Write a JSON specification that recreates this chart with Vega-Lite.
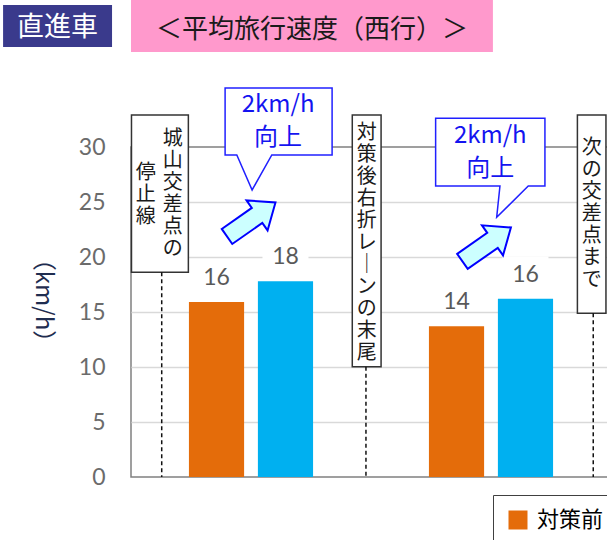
{
  "$schema": "https://vega.github.io/schema/vega-lite/v6.json",
  "width": 480,
  "height": 330,
  "autosize": {"type": "none"},
  "padding": {"left": 131, "top": 147, "right": 0, "bottom": 63},
  "background": "white",
  "config": {
    "view": {"stroke": "#808080", "strokeWidth": 1.5},
    "text": {"font": "Noto Sans CJK JP"}
  },
  "resolve": {"scale": {"x": "independent", "y": "independent"}},
  "layer": [
    {
      "data": {"values": [
        {"section": "区間1", "period": "対策前（H30）", "speed": 15.9},
        {"section": "区間1", "period": "対策後（R1）", "speed": 17.8},
        {"section": "区間2", "period": "対策前（H30）", "speed": 13.7},
        {"section": "区間2", "period": "対策後（R1）", "speed": 16.2}
      ]},
      "encoding": {
        "x": {"field": "section", "type": "nominal", "axis": null, "scale": {"paddingInner": 0, "paddingOuter": 0}},
        "xOffset": {"field": "period", "type": "nominal", "sort": ["対策前（H30）", "対策後（R1）"], "scale": {"paddingInner": 0.2, "paddingOuter": 0.84}},
        "y": {
          "field": "speed", "type": "quantitative",
          "scale": {"domain": [0, 30], "nice": false},
          "axis": {
            "title": "（km/h）", "titleAngle": 90, "titleX": -89, "titleY": 153,
            "titleAlign": "center", "titleBaseline": "middle",
            "titleFont": "Noto Sans CJK JP", "titleFontSize": 24, "titleFontWeight": "normal", "titleColor": "#1f2d50",
            "values": [0, 5, 10, 15, 20, 25, 30],
            "labelFont": "Lato", "labelFontSize": 23, "labelColor": "#6b6b6b", "labelPadding": 26,
            "ticks": false, "domain": false, "grid": true,
            "gridColor": {"condition": {"test": "datum.value === 0 || datum.value === 30", "value": "transparent"}, "value": "#d9d9d9"},
            "gridWidth": 1.5
          }
        }
      },
      "layer": [
        {
          "mark": {"type": "bar"},
          "encoding": {
            "color": {
              "field": "period", "type": "nominal",
              "scale": {"domain": ["対策前（H30）", "対策後（R1）"], "range": ["#E46C0A", "#00B0F0"]},
              "legend": {
                "title": null, "orient": "none", "legendX": 362, "legendY": 348, "direction": "horizontal",
                "strokeColor": "#404040", "fillColor": "white", "padding": 14,
                "symbolType": "square", "symbolSize": 361, "symbolStrokeWidth": 0,
                "labelFont": "Noto Sans CJK JP", "labelFontSize": 22, "labelColor": "#000000", "labelOffset": 8,
                "columnPadding": 20
              }
            }
          }
        },
        {
          "mark": {"type": "point", "shape": "M-1,-0.75L1,-0.75L1,0.3L-1,0.3Z", "size": 2116, "filled": true, "color": "white", "opacity": 1, "yOffset": -25}
        },
        {
          "mark": {"type": "text", "font": "Lato", "fontSize": 23, "color": "#595959", "baseline": "alphabetic", "dy": -17},
          "encoding": {"text": {"field": "speed", "type": "quantitative", "format": ".0f"}}
        }
      ]
    },
    {
      "encoding": {
        "x": {"field": "x", "type": "quantitative", "axis": null, "scale": {"domain": [0, 2], "nice": false, "zero": false}},
        "y": {"field": "y", "type": "quantitative", "axis": null, "scale": {"domain": [0, 30], "nice": false, "zero": false}}
      },
      "layer": [
        {
          "data": {"values": [
            {"x": 0.002, "x2": 0.239, "y": 32.91, "y2": 18.61},
            {"x": 0.922, "x2": 1.042, "y": 32.91, "y2": 10.03},
            {"x": 1.86, "x2": 1.979, "y": 32.91, "y2": 14.88}
          ]},
          "mark": {"type": "rect", "fill": "white", "stroke": "#333333", "strokeWidth": 1.5},
          "encoding": {"x2": {"field": "x2"}, "y2": {"field": "y2"}}
        },
        {
          "data": {"values": [
            {"x": 0.128, "y": 18.61, "y2": 0},
            {"x": 0.979, "y": 10.03, "y2": 0},
            {"x": 1.926, "y": 14.88, "y2": 0}
          ]},
          "mark": {"type": "rule", "color": "#111111", "strokeWidth": 1.5, "strokeDash": [4, 3]},
          "encoding": {"y2": {"field": "y2"}}
        },
        {
          "data": {"values": [
            {"x": 0.174, "y": 30.73, "label": "城\n山\n交\n差\n点\nの"},
            {"x": 0.061, "y": 27.65, "label": "停\n止\n線"},
            {"x": 0.982, "y": 31.3, "label": "対\n策\n後\n右\n折\nレ\n｜\nン\nの\n末\n尾"},
            {"x": 1.92, "y": 29.92, "label": "次\nの\n交\n差\n点\nま\nで"}
          ]},
          "mark": {"type": "text", "font": "Noto Sans CJK JP", "fontSize": 20, "lineHeight": 22, "lineBreak": "\n", "align": "center", "baseline": "middle", "color": "#1a1a1a"},
          "encoding": {"text": {"field": "label"}}
        },
        {
          "data": {"values": [{"x": 0.615, "y": 30.73}]},
          "mark": {"type": "point", "shape": "M-1,-0.953L1,-0.953L1,0.299L-0.127,0.299L-0.495,0.953L-0.781,0.299L-1,0.299Z", "size": 11449, "filled": true, "fill": "white", "stroke": "#2020ff", "strokeWidth": 1.5, "opacity": 1}
        },
        {
          "data": {"values": [{"x": 1.497, "y": 28.11}]},
          "mark": {"type": "point", "shape": "M-1,-0.906L1,-0.906L1,0.333L0.695,0.333L0.117,0.906L0.177,0.333L-1,0.333Z", "size": 11947, "filled": true, "fill": "white", "stroke": "#2020ff", "strokeWidth": 1.5, "opacity": 1}
        },
        {
          "data": {"values": [
            {"x": 0.613, "y": 33.84, "label": "2km/h\n向上"},
            {"x": 1.497, "y": 31.02, "label": "2km/h\n向上"}
          ]},
          "mark": {"type": "text", "font": "Noto Sans CJK JP", "fontSize": 24, "lineHeight": 33, "lineBreak": "\n", "align": "center", "baseline": "middle", "color": "#1414f0"},
          "encoding": {"text": {"field": "label"}}
        },
        {
          "data": {"values": [{"x": 0.501, "y": 23.41}, {"x": 1.482, "y": 21.14}]},
          "mark": {"type": "point", "shape": "M-1,-0.31L0.24,-0.31L0.24,-0.62L1,0L0.24,0.62L0.24,0.31L-1,0.31Z", "size": 3500, "angle": 325, "filled": true, "fill": "#ccffff", "stroke": "#0000ff", "strokeWidth": 2, "opacity": 1}
        },
        {
          "data": {"values": [{"x": 0, "x2": 1.508, "y": 43.36, "y2": 38.64}]},
          "mark": {"type": "rect", "fill": "#ff99cc"},
          "encoding": {"x2": {"field": "x2"}, "y2": {"field": "y2"}}
        },
        {
          "data": {"values": [{"x": -0.533, "x2": -0.079, "y": 42.91, "y2": 39.09}]},
          "mark": {"type": "rect", "fill": "#3a3a8c"},
          "encoding": {"x2": {"field": "x2"}, "y2": {"field": "y2"}}
        },
        {
          "data": {"values": [{"x": -0.306, "y": 40.86, "label": "直進車"}]},
          "mark": {"type": "text", "font": "Noto Sans CJK JP", "fontSize": 27, "align": "center", "baseline": "middle", "color": "white"},
          "encoding": {"text": {"field": "label"}}
        },
        {
          "data": {"values": [{"x": 0.754, "y": 40.64, "label": "＜平均旅行速度（西行）＞"}]},
          "mark": {"type": "text", "font": "Noto Sans CJK JP", "fontSize": 26, "align": "center", "baseline": "middle", "color": "#1a1a1a"},
          "encoding": {"text": {"field": "label"}}
        }
      ]
    }
  ]
}
